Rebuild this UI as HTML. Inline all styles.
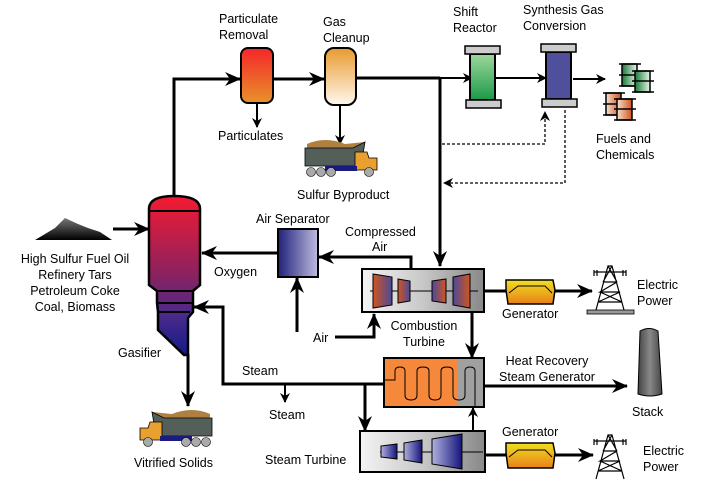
<!DOCTYPE html>
<html><head><meta charset="utf-8"><style>
body{margin:0;background:#fff}
svg{display:block}
text{font-family:"Liberation Sans",Arial,sans-serif;font-size:12.5px;fill:#000}
</style></head><body>
<svg width="714" height="484" viewBox="0 0 714 484" xmlns="http://www.w3.org/2000/svg">
<defs>
<marker id="a" markerWidth="10" markerHeight="10" refX="9" refY="5" orient="auto" markerUnits="userSpaceOnUse"><path d="M0,0 L10,5 L0,10 L3,5 Z" fill="#000"/></marker>
<marker id="b" markerWidth="16" markerHeight="14" refX="15" refY="7" orient="auto" markerUnits="userSpaceOnUse"><path d="M0,0 L16,7 L0,14 L5,7 Z" fill="#000"/></marker>
<linearGradient id="pr" x1="0" y1="0" x2="0" y2="1"><stop offset="0" stop-color="#f4262a"/><stop offset="1" stop-color="#e8922a"/></linearGradient>
<linearGradient id="gc" x1="0" y1="0" x2="0" y2="1"><stop offset="0" stop-color="#e89a2e"/><stop offset="1" stop-color="#fff8ee"/></linearGradient>
<linearGradient id="sr" x1="0" y1="0" x2="0" y2="1"><stop offset="0" stop-color="#9ed89a"/><stop offset="1" stop-color="#1a9a48"/></linearGradient>
<linearGradient id="gs" x1="0" y1="0" x2="0" y2="1"><stop offset="0" stop-color="#f41a30"/><stop offset="0.5" stop-color="#8a2260"/><stop offset="0.75" stop-color="#4a2a8a"/><stop offset="1" stop-color="#141a8a"/></linearGradient>
<linearGradient id="as" x1="0" y1="0" x2="1" y2="0"><stop offset="0" stop-color="#20207a"/><stop offset="1" stop-color="#c0bce0"/></linearGradient>
<linearGradient id="tb" x1="0" y1="0" x2="1" y2="0"><stop offset="0" stop-color="#f4f4f4"/><stop offset="0.5" stop-color="#c8c8c8"/><stop offset="1" stop-color="#888"/></linearGradient>
<linearGradient id="bl" x1="0" y1="0" x2="1" y2="0"><stop offset="0" stop-color="#d2541e"/><stop offset="1" stop-color="#4a4a9a"/></linearGradient>
<linearGradient id="bl2" x1="0" y1="0" x2="1" y2="0"><stop offset="0" stop-color="#4a4a9a"/><stop offset="1" stop-color="#d2541e"/></linearGradient>
<linearGradient id="st" x1="0" y1="0" x2="1" y2="0"><stop offset="0" stop-color="#b0b0e0"/><stop offset="1" stop-color="#14147a"/></linearGradient>
<linearGradient id="gen" x1="0" y1="0" x2="0" y2="1"><stop offset="0" stop-color="#f0e020"/><stop offset="1" stop-color="#e8801a"/></linearGradient>
<linearGradient id="stk" x1="0" y1="0" x2="1" y2="0"><stop offset="0" stop-color="#444"/><stop offset="0.5" stop-color="#888"/><stop offset="1" stop-color="#444"/></linearGradient>
<linearGradient id="bg" x1="0" y1="0" x2="1" y2="0"><stop offset="0" stop-color="#1a7a3a"/><stop offset="1" stop-color="#e8f4e8"/></linearGradient>
<linearGradient id="bo" x1="0" y1="0" x2="1" y2="0"><stop offset="0" stop-color="#f4e0d0"/><stop offset="1" stop-color="#d2541e"/></linearGradient>
<linearGradient id="coal" x1="0" y1="0" x2="0" y2="1"><stop offset="0" stop-color="#777"/><stop offset="1" stop-color="#000"/></linearGradient>
<g id="truck">
<path d="M2,4 Q20,-4 40,4 L60,2 L54,12 L2,12 Z" fill="#b08040"/>
<path d="M0,8 L48,8 L60,2 L56,26 L0,26 Z" fill="#555f5a" stroke="#000" stroke-width="0.8"/>
<path d="M50,12 L62,12 L64,18 L72,18 L72,30 L50,30 Z" fill="#e8a030" stroke="#000" stroke-width="0.8"/>
<rect x="20" y="26" width="32" height="5" fill="#1a1a80"/>
<circle cx="6" cy="32" r="4.5" fill="#aaa" stroke="#000" stroke-width="0.6"/><circle cx="16" cy="32" r="4.5" fill="#aaa" stroke="#000" stroke-width="0.6"/><circle cx="26" cy="32" r="4.5" fill="#aaa" stroke="#000" stroke-width="0.6"/><circle cx="64" cy="32" r="4.5" fill="#aaa" stroke="#000" stroke-width="0.6"/>
</g>
<g id="tower" fill="none" stroke="#000" stroke-width="1.2">
<path d="M8,48 L20,4 L24,4 L36,48 M10,40 L34,40 M12,30 L32,30 M15,20 L29,20 M10,40 L32,30 L12,30 L29,20 M34,40 L12,30 M20,4 L29,20 M24,4 L15,20 M6,10 L38,10 M6,8 L6,14 M38,8 L38,14 M9,8 L9,14 M35,8 L35,14"/>
</g>
</defs>

<g fill="none" stroke="#000" stroke-width="3">
<path d="M174,196 L174,79 L240,79" marker-end="url(#b)"/>
<path d="M274,79 L324,79" marker-end="url(#b)"/>
<path d="M356,78 L440,78"/>
<path d="M440,78 L472,78" stroke-width="2" marker-end="url(#a)"/>
<path d="M440,78 L440,266" marker-end="url(#b)"/>
<path d="M496,78 L546,78" stroke-width="2" marker-end="url(#a)"/>
<path d="M573,79 L605,79" stroke-width="2" marker-end="url(#a)"/>
<path d="M257,103 L257,127" stroke-width="2" marker-end="url(#a)"/>
<path d="M340,105 L340,144" stroke-width="2" marker-end="url(#a)"/>
<path d="M113,229 L149,229" marker-end="url(#b)"/>
<path d="M278,253 L202,253" marker-end="url(#b)"/>
<path d="M411,269 L411,257 L319,257" marker-end="url(#b)"/>
<path d="M297,332 L297,278" marker-end="url(#b)"/>
<path d="M335,337 L374,337 L374,314" marker-end="url(#b)"/>
<path d="M384,384 L223,384 L223,307 L194,307" marker-end="url(#b)"/>
<path d="M285,384 L285,402" stroke-width="2" marker-end="url(#a)"/>
<path d="M365,384 L365,431" marker-end="url(#b)"/>
<path d="M473,431 L473,408" stroke-width="2" marker-end="url(#a)"/>
<path d="M472,312 L472,358" marker-end="url(#b)"/>
<path d="M188,354 L188,406" marker-end="url(#b)"/>
<path d="M484,386 L627,386" marker-end="url(#b)"/>
<path d="M484,291 L506,291"/><path d="M555,291 L592,291" marker-end="url(#b)"/>
<path d="M485,455 L506,455"/><path d="M555,455 L593,455" marker-end="url(#b)"/>
</g>
<g fill="none" stroke="#000" stroke-width="1.3" stroke-dasharray="3,2">
<path d="M442,144 L545,144 L545,112" marker-end="url(#a)"/>
<path d="M565,110 L565,183 L444,183" marker-end="url(#a)"/>
</g>

<rect x="241" y="48" width="32" height="55" rx="7" fill="url(#pr)" stroke="#000" stroke-width="2"/>
<rect x="325" y="48" width="31" height="57" rx="9" fill="url(#gc)" stroke="#000" stroke-width="2"/>
<rect x="470" y="54" width="25" height="46" fill="url(#sr)" stroke="#000" stroke-width="2"/>
<rect x="465" y="46" width="35" height="8" fill="#ccc" stroke="#000" stroke-width="1.5"/>
<rect x="466" y="100" width="35" height="8" fill="#ccc" stroke="#000" stroke-width="1.5"/>
<rect x="546" y="52" width="25" height="47" fill="#4f4f9b" stroke="#000" stroke-width="2"/>
<rect x="541" y="44" width="35" height="8" fill="#ccc" stroke="#000" stroke-width="1.5"/>
<rect x="542" y="99" width="35" height="8" fill="#ccc" stroke="#000" stroke-width="1.5"/>

<g stroke="#000" stroke-width="1.5">
<rect x="622" y="64" width="15" height="22" fill="url(#bg)"/><path d="M619,64 h22 M619,75 h22 M619,86 h22"/>
<rect x="635" y="71" width="15" height="21" fill="url(#bg)"/><path d="M632,71 h22 M632,81 h22 M632,92 h22"/>
<rect x="606" y="93" width="15" height="22" fill="url(#bo)"/><path d="M603,93 h22 M603,104 h22 M603,115 h22"/>
<rect x="617" y="99" width="15" height="21" fill="url(#bo)"/><path d="M614,99 h22 M614,109 h22 M614,120 h22"/>
</g>

<use href="#truck" transform="translate(305,140)"/>
<use href="#truck" transform="translate(212,410) scale(-1,1)"/>

<path d="M35,240 L55,228 L65,218 L78,224 L88,228 L100,232 L112,240 Z" fill="url(#coal)"/>

<path d="M149,285 L149,208 Q150,196 174,196 Q199,196 200,208 L200,285 L193,291 L193,312 L188,318 L188,355 L184,355 L158,330 L158,312 L157,303 L157,291 Z" fill="url(#gs)" stroke="#000" stroke-width="2.5"/>
<path d="M149,211 H200 M157,291 H193 M158,303 H192 M158,312 H190" stroke="#000" stroke-width="2"/>

<rect x="278" y="229" width="40" height="48" fill="url(#as)" stroke="#000" stroke-width="2"/>

<rect x="362" y="269" width="122" height="43" fill="url(#tb)" stroke="#000" stroke-width="2"/>
<path d="M370,291 H478" stroke="#000" stroke-width="1"/>
<g stroke="#000" stroke-width="1">
<path d="M373,274 L392,277 L392,305 L373,308 Z" fill="url(#bl)"/>
<path d="M398,279 L410,281 L410,301 L398,303 Z" fill="url(#bl)"/>
<path d="M432,281 L446,279 L446,303 L432,301 Z" fill="url(#bl2)"/>
<path d="M453,277 L470,274 L470,308 L453,305 Z" fill="url(#bl2)"/>
</g>

<rect x="384" y="358" width="100" height="49" fill="#f5883a" stroke="#000" stroke-width="2"/>
<rect x="457" y="359" width="26" height="47" fill="#a0a0a0"/>
<path d="M384,380 H395 V371 Q395,367 400,367 Q405,367 405,371 V395 Q405,400 411,400 Q417,400 417,395 V371 Q417,367 423,367 Q429,367 429,371 V395 Q429,400 435,400 Q441,400 441,395 V371 Q441,367 447,367 Q453,367 453,371 V395 Q453,400 459,400 Q465,400 465,395 V371 Q465,367 470,367 Q475,367 475,371 V406" fill="none" stroke="#000" stroke-width="1"/>

<rect x="360" y="431" width="125" height="41" fill="url(#tb)" stroke="#000" stroke-width="2"/>
<path d="M380,452 H483" stroke="#000" stroke-width="1"/>
<g stroke="#000" stroke-width="1" fill="url(#st)">
<path d="M381,446 L397,444 L397,459 L381,457 Z"/>
<path d="M404,443 L422,440 L422,463 L404,460 Z"/>
<path d="M432,439 L462,434 L462,469 L432,464 Z"/>
</g>

<g stroke="#000" stroke-width="1.5" fill="url(#gen)">
<path d="M506,280 L553,280 L555,290 L553,304 L508,304 L506,290 Z"/>
<path d="M506,443 L553,443 L555,453 L553,468 L508,468 L506,453 Z"/>
</g>
<path d="M509,293 L518,286 H545 L552,293" fill="none" stroke="#000" stroke-width="1"/>
<path d="M509,457 L518,450 H545 L552,457" fill="none" stroke="#000" stroke-width="1"/>

<use href="#tower" transform="translate(588,262)"/>
<rect x="587" y="310" width="47" height="4" fill="#999" stroke="#000" stroke-width="0.8"/>
<use href="#tower" transform="translate(588,431)"/>

<path d="M640,331 Q649,326 658,331 L662,394 Q650,398 638,394 Z" fill="url(#stk)" stroke="#000" stroke-width="1"/>

<text x="219" y="23">Particulate</text><text x="219" y="39">Removal</text>
<text x="323" y="26">Gas</text><text x="323" y="42">Cleanup</text>
<text x="453" y="16">Shift</text><text x="453" y="32">Reactor</text>
<text x="523" y="14">Synthesis Gas</text><text x="523" y="30">Conversion</text>
<text x="218" y="140">Particulates</text>
<text x="297" y="199">Sulfur Byproduct</text>
<text x="596" y="143">Fuels and</text><text x="596" y="159">Chemicals</text>
<text x="256" y="223">Air Separator</text>
<text x="345" y="236">Compressed</text><text x="372" y="251">Air</text>
<text x="214" y="276">Oxygen</text>
<text x="75" y="263" text-anchor="middle">High Sulfur Fuel Oil</text>
<text x="75" y="279" text-anchor="middle">Refinery Tars</text>
<text x="75" y="295" text-anchor="middle">Petroleum Coke</text>
<text x="75" y="311" text-anchor="middle">Coal, Biomass</text>
<text x="313" y="342">Air</text>
<text x="424" y="330" text-anchor="middle">Combustion</text><text x="424" y="346" text-anchor="middle">Turbine</text>
<text x="502" y="318">Generator</text>
<text x="637" y="289">Electric</text><text x="637" y="305">Power</text>
<text x="118" y="357">Gasifier</text>
<text x="242" y="375">Steam</text>
<text x="269" y="419">Steam</text>
<text x="547" y="365" text-anchor="middle">Heat Recovery</text><text x="547" y="381" text-anchor="middle">Steam Generator</text>
<text x="632" y="416">Stack</text>
<text x="502" y="436">Generator</text>
<text x="643" y="455">Electric</text><text x="643" y="471">Power</text>
<text x="265" y="464">Steam Turbine</text>
<text x="134" y="467">Vitrified Solids</text>
</svg>
</body></html>
